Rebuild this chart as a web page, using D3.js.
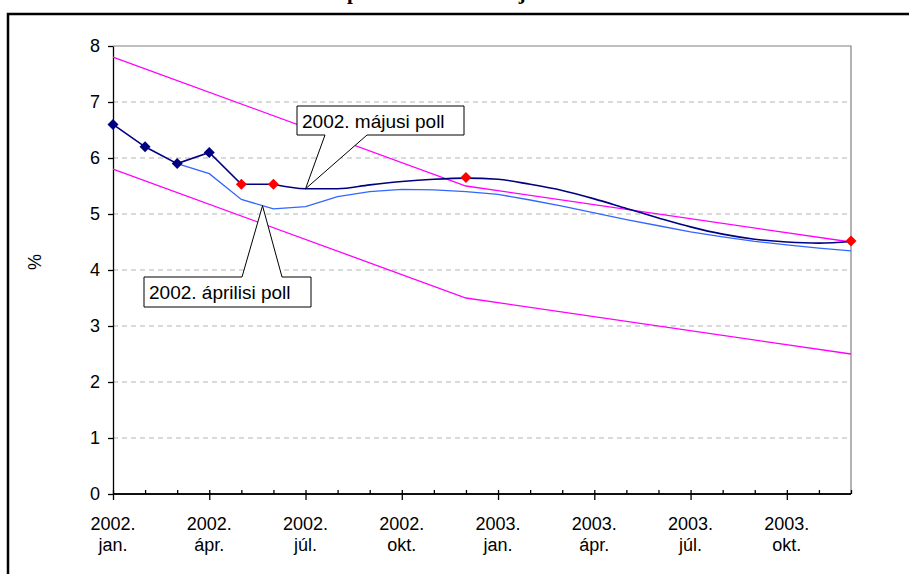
<!DOCTYPE html>
<html><head><meta charset="utf-8">
<script src="https://cdn.jsdelivr.net/npm/d3@7"></script>
<style>html,body{margin:0;padding:0;background:#fff;overflow:hidden} svg{display:block}</style>
</head><body>
<svg id="c" width="909" height="574"></svg>
<script>
// ---- data ----
const categories = ["2002-01","2002-02","2002-03","2002-04","2002-05","2002-06","2002-07","2002-08","2002-09","2002-10","2002-11","2002-12",
                    "2003-01","2003-02","2003-03","2003-04","2003-05","2003-06","2003-07","2003-08","2003-09","2003-10","2003-11","2003-12"];
const tickYear  = ["2002.","2002.","2002.","2002.","2003.","2003.","2003.","2003."];
const tickMonth = ["jan.","ápr.","júl.","okt.","jan.","ápr.","júl.","okt."];
const yTicks = [0,1,2,3,4,5,6,7,8];
// actual inflation + May 2002 poll (navy)
const mayPoll = [6.6,6.2,5.9,6.1,5.53,5.53,5.45,5.45,5.52,5.58,5.62,5.64,
                 5.62,5.53,5.42,5.27,5.10,4.93,4.77,4.64,4.55,4.50,4.48,4.51];
const actualMarkers = [6.6,6.2,5.9,6.1,null,null,null,null,null,null,null,null,
                       null,null,null,null,null,null,null,null,null,null,null,null];
const redMarkers = [null,null,null,null,5.53,5.53,null,null,null,null,null,5.65,
                    null,null,null,null,null,null,null,null,null,null,null,4.52];
// April 2002 poll (light blue)
const aprilPoll = [null,null,5.9,5.72,5.26,5.09,5.13,5.31,5.40,5.44,5.43,5.40,
                   5.35,5.25,5.14,5.02,4.90,4.79,4.68,4.59,4.51,4.45,4.39,4.34];
// target band (magenta)
const upperBand = [7.8,null,null,null,null,null,null,null,null,null,null,5.5,
                   null,null,null,null,null,null,null,null,null,null,null,4.5];
const lowerBand = [5.8,null,null,null,null,null,null,null,null,null,null,3.5,
                   null,null,null,null,null,null,null,null,null,null,null,2.5];
const yLabel = "%";
const title = "Az elemzők piaci inflációs előrejelzései";
const calloutMay = "2002. májusi poll";
const calloutApr = "2002. áprilisi poll";

// ---- drawing ----
const svg = d3.select("#c");
const F = "Arial, 'Liberation Sans', sans-serif";
const pL = 113, pR = 851, pT = 46, pB = 494;
const x = d3.scalePoint().domain(categories).range([pL, pR]);
const y = d3.scaleLinear().domain([0, 8]).range([pB, pT]);

// outer frame
svg.append("rect").attr("x", 8).attr("y", 14).attr("width", 1000).attr("height", 1000)
  .attr("fill", "none").attr("stroke", "#000").attr("stroke-width", 2.5);

// title (above the page top; only descenders show)
const tt = svg.append("text").attr("y", -1).attr("font-family", "'Liberation Serif', 'Times New Roman', serif")
  .attr("font-weight", "bold").attr("font-size", 20).text(title);
{
  const node = tt.node();
  const ip = title.indexOf("p"), ij = title.indexOf("j");
  const d0 = node.getSubStringLength(0, ij) - node.getSubStringLength(0, ip);
  const fs = Math.max(17, Math.min(26, 20 * 172 / d0));
  tt.attr("font-size", fs);
  tt.attr("x", 347 - node.getSubStringLength(0, ip));
}

// grid
svg.append("g").selectAll("line").data(yTicks.filter(v => v > 0 && v < 8)).join("line")
  .attr("x1", pL).attr("x2", pR).attr("y1", d => y(d)).attr("y2", d => y(d))
  .attr("stroke", "#b4b4b4").attr("stroke-width", 1).attr("stroke-dasharray", "5,4");
// plot border top/right
svg.append("path").attr("d", `M${pL},${y(8)}H${pR}V${pB}`)
  .attr("fill", "none").attr("stroke", "#808080").attr("stroke-width", 1.2);

// y axis
const ya = svg.append("g").attr("transform", `translate(${pL},0)`)
  .call(d3.axisLeft(y).tickValues(yTicks).tickSize(5).tickSizeOuter(0).tickPadding(8).tickFormat(d3.format("d")));
ya.selectAll("text").attr("font-family", F).attr("font-size", 18).attr("fill", "#000");
ya.selectAll("line,path").attr("stroke", "#000").attr("stroke-width", 1.3);

// x axis: minor ticks (inside) and major ticks (outside)
const majors = categories.filter((d, i) => i % 3 === 0);
const xMinor = svg.append("g").attr("transform", `translate(0,${pB})`)
  .call(d3.axisBottom(x).tickValues(categories).tickSize(-4).tickSizeOuter(0).tickFormat(""));
const xMajor = svg.append("g").attr("transform", `translate(0,${pB})`)
  .call(d3.axisBottom(x).tickValues(majors).tickSize(6).tickSizeOuter(0).tickFormat(""));
[xMinor, xMajor].forEach(g => g.selectAll("line,path").attr("stroke", "#000").attr("stroke-width", 1.3));
xMinor.select("path.domain").attr("d", `M${pL},0H${pR}`);
xMajor.select("path.domain").attr("d", `M${pL},0H${pR}`);

const lab = svg.append("g").attr("font-family", F).attr("font-size", 18).attr("text-anchor", "middle");
majors.forEach((c, i) => {
  lab.append("text").attr("x", x(c)).attr("y", 530).text(tickYear[i]);
  lab.append("text").attr("x", x(c)).attr("y", 551).text(tickMonth[i]);
});

// y label
svg.append("text").attr("transform", "translate(41,262) rotate(-90)").attr("text-anchor", "middle")
  .attr("font-family", F).attr("font-size", 18).text(yLabel);

// lines
const pts = arr => arr.map((v, i) => [categories[i], v]).filter(d => d[1] != null);
const line = d3.line().x(d => x(d[0])).y(d => y(d[1]));
const smooth = d3.line().x(d => x(d[0])).y(d => y(d[1])).curve(d3.curveMonotoneX);
svg.append("path").attr("d", line(pts(upperBand))).attr("fill", "none").attr("stroke", "#ff00ff").attr("stroke-width", 1.3);
svg.append("path").attr("d", line(pts(lowerBand))).attr("fill", "none").attr("stroke", "#ff00ff").attr("stroke-width", 1.3);
svg.append("path").attr("d", line(pts(aprilPoll))).attr("fill", "none").attr("stroke", "#3366ff").attr("stroke-width", 1.3);
const navyPts = pts(mayPoll);
svg.append("path").attr("d", line(navyPts.slice(0, 6))).attr("fill", "none").attr("stroke", "#000080").attr("stroke-width", 1.6);
svg.append("path").attr("d", smooth(navyPts.slice(5))).attr("fill", "none").attr("stroke", "#000080").attr("stroke-width", 1.6);

const diamond = (cx, cy, r) => `M${cx},${cy - r}L${cx + r},${cy}L${cx},${cy + r}L${cx - r},${cy}Z`;
svg.append("g").selectAll("path").data(pts(actualMarkers)).join("path")
  .attr("d", d => diamond(x(d[0]), y(d[1]), 5.5)).attr("fill", "#000080");
svg.append("g").selectAll("path").data(pts(redMarkers)).join("path")
  .attr("d", d => diamond(x(d[0]), y(d[1]), 5.5)).attr("fill", "#ff0000");

// callouts
const tipMay = [x(categories[6]), y(mayPoll[6])];
svg.append("path").attr("d", `M297,106H464V135H367L${tipMay[0]},${tipMay[1]}L325,135H297Z`)
  .attr("fill", "#fff").attr("stroke", "#000").attr("stroke-width", 1);
svg.append("text").attr("x", 302).attr("y", 128).attr("font-family", F).attr("font-size", 19).text(calloutMay);

const fr = 0.66;
const tipApr = [x(categories[4]) + fr * x.step(), y(aprilPoll[4] + fr * (aprilPoll[5] - aprilPoll[4]))];
svg.append("path").attr("d", `M144,277H242L${tipApr[0]},${tipApr[1]}L282,277H311V307H144Z`)
  .attr("fill", "#fff").attr("stroke", "#000").attr("stroke-width", 1);
svg.append("text").attr("x", 149).attr("y", 299).attr("font-family", F).attr("font-size", 19).text(calloutApr);
</script>
</body></html>
